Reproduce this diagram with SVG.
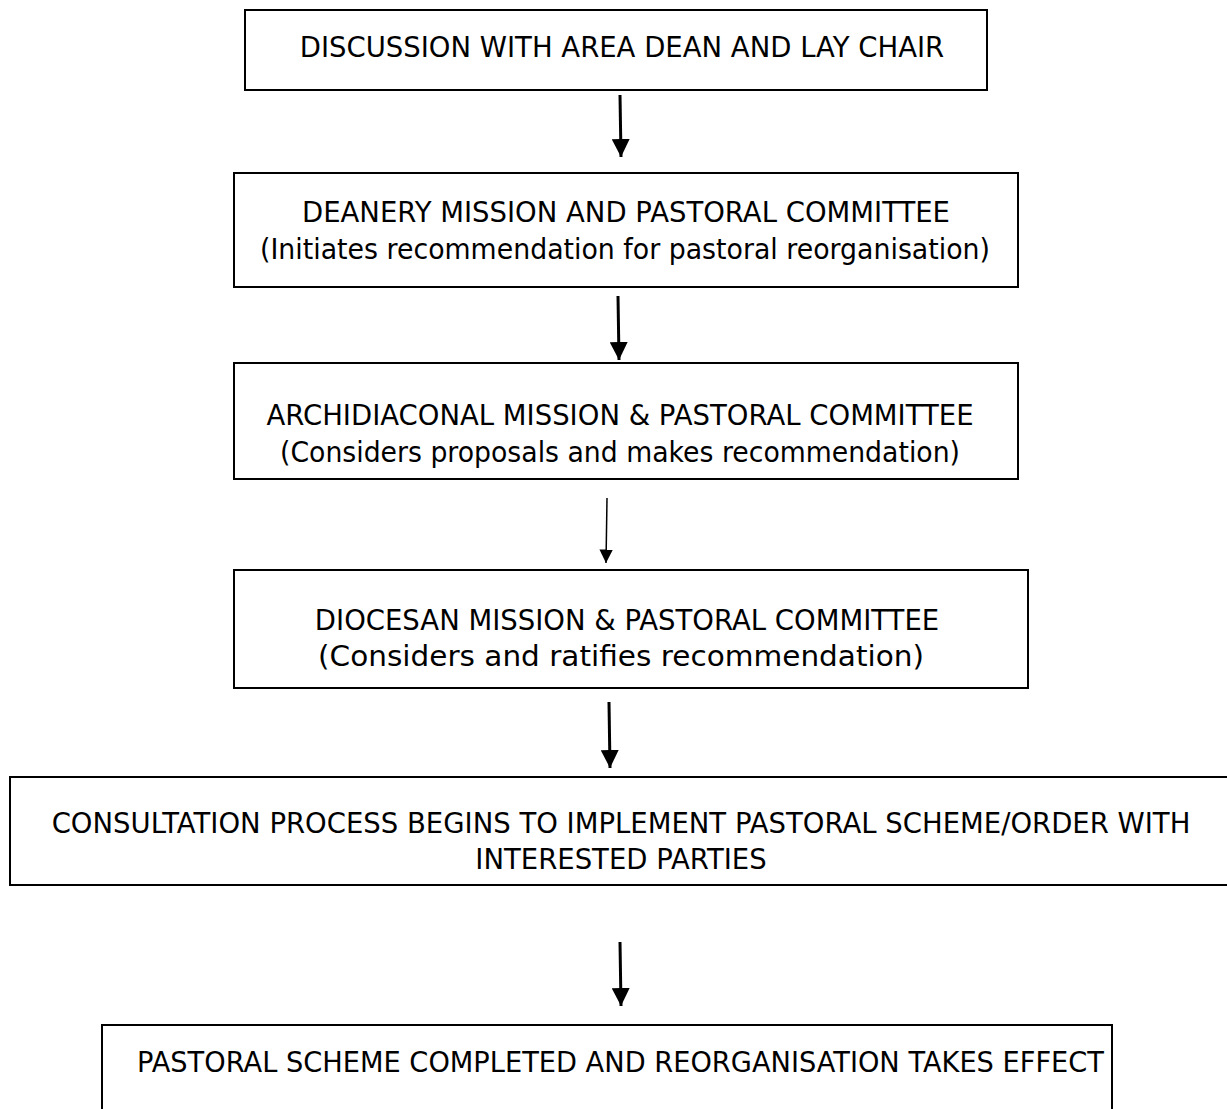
<svg xmlns="http://www.w3.org/2000/svg" width="1227" height="1109" viewBox="0 0 1227 1109">
<defs>
<marker id="ah" viewBox="0 0 10 10" refX="10" refY="5" markerWidth="6" markerHeight="6" markerUnits="strokeWidth" orient="auto"><path d="M0,0 L10,5 L0,10 Z" fill="#000"/></marker>
<marker id="ahs" viewBox="0 0 10 10" refX="10" refY="5" markerWidth="9" markerHeight="9" markerUnits="strokeWidth" orient="auto"><path d="M0,0 L10,5 L0,10 Z" fill="#000"/></marker>
<style>
.box{fill:#fff;stroke:#000;stroke-width:2}
.t{font-family:"DejaVu Sans","Verdana",sans-serif;font-size:27.5px;fill:#000;text-anchor:middle}
.c{stroke:#000;stroke-width:3;fill:none}
.cs{stroke:#000;stroke-width:1.5;fill:none}
</style>
</defs>
<rect width="1227" height="1109" fill="#fff"/>
<g id="n1"><rect class="box" x="245" y="10" width="742" height="80"/><text class="t" x="622" y="57">DISCUSSION WITH AREA DEAN AND LAY CHAIR</text></g>
<g id="n2"><rect class="box" x="234" y="173" width="784" height="114"/><text class="t" x="626" y="222">DEANERY MISSION AND PASTORAL COMMITTEE</text><text class="t" x="625" y="259" textLength="730" lengthAdjust="spacingAndGlyphs">(Initiates recommendation for pastoral reorganisation)</text></g>
<g id="n3"><rect class="box" x="234" y="363" width="784" height="116"/><text class="t" x="620" y="425">ARCHIDIACONAL MISSION &amp; PASTORAL COMMITTEE</text><text class="t" x="620" y="462" textLength="680" lengthAdjust="spacingAndGlyphs">(Considers proposals and makes recommendation)</text></g>
<g id="n4"><rect class="box" x="234" y="570" width="794" height="118"/><text class="t" x="627" y="630">DIOCESAN MISSION &amp; PASTORAL COMMITTEE</text><text class="t" x="621" y="666" textLength="606" lengthAdjust="spacingAndGlyphs">(Considers and ratifies recommendation)</text></g>
<g id="n5"><rect class="box" x="10" y="777" width="1230" height="108"/><text class="t" x="621" y="833">CONSULTATION PROCESS BEGINS TO IMPLEMENT PASTORAL SCHEME/ORDER WITH</text><text class="t" x="621" y="869">INTERESTED PARTIES</text></g>
<g id="n6"><rect class="box" x="102" y="1025" width="1010" height="100"/><text class="t" x="620.5" y="1072" textLength="967" lengthAdjust="spacingAndGlyphs">PASTORAL SCHEME COMPLETED AND REORGANISATION TAKES EFFECT</text></g>
<g id="connectors">
<line class="c" x1="620" y1="95" x2="621" y2="157" marker-end="url(#ah)"/>
<line class="c" x1="618" y1="296" x2="619" y2="360" marker-end="url(#ah)"/>
<line class="cs" x1="607" y1="498" x2="606" y2="563" marker-end="url(#ahs)"/>
<line class="c" x1="609" y1="702" x2="610" y2="768" marker-end="url(#ah)"/>
<line class="c" x1="620" y1="942" x2="621" y2="1006" marker-end="url(#ah)"/>
</g>
</svg>
